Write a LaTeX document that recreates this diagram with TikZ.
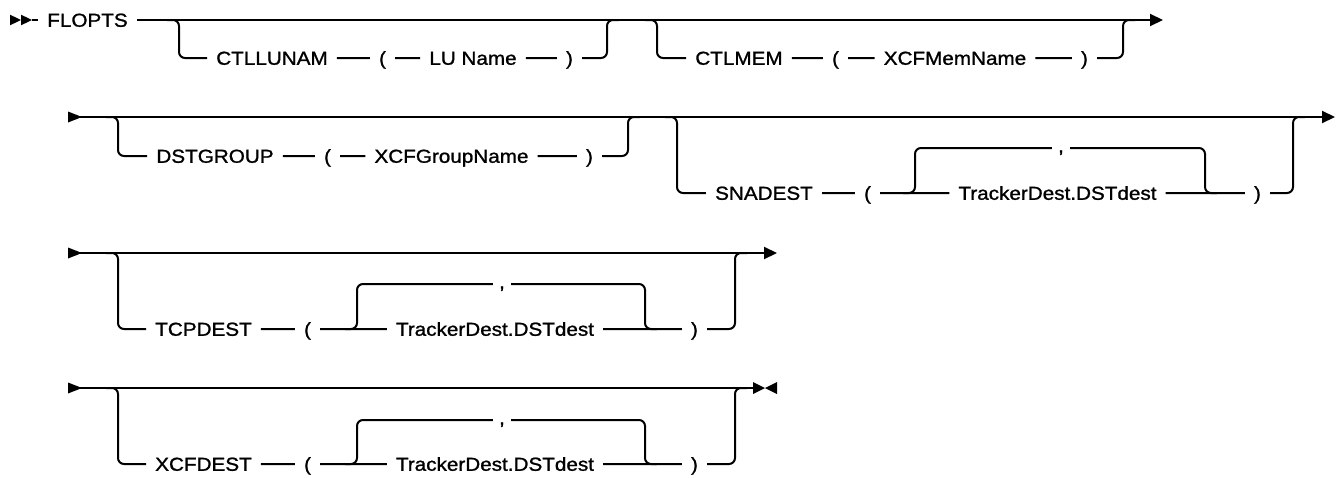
\documentclass[tikz,border=0pt]{standalone}
\usepackage{fontspec}
\setmainfont{Liberation Sans}[FakeStretch=1.1,FakeBold=1.2]
\usetikzlibrary{arrows.meta}
\tikzset{
  ln/.style={line width=2pt, line join=round},
  br/.style={ln, rounded corners=6pt},
  arr/.style={ln, -{Triangle[length=13pt,width=12pt]}},
  t/.style={inner xsep=9pt, inner ysep=0pt, text height=13.5pt, text depth=0pt, font=\fontsize{18.8}{22}\selectfont},
  commalbl/.style={t, inner xsep=6pt, text height=9pt}
}
\begin{document}
\begin{tikzpicture}[x=1pt,y=-1pt]
\useasboundingbox (0,0) rectangle (1340,477);
% ---------------- Row 1 ----------------
\fill (10,14.7) -- (21,20) -- (10,25.3) -- cycle;
\fill (21,14.7) -- (32,20) -- (21,25.3) -- cycle;
\coordinate (s1) at (32,20);
\node[t] (flopts) at (87.5,20) {FLOPTS};
\coordinate (e1) at (1163,20);
\draw[ln] (s1) -- (flopts);
\draw[arr] (flopts) -- (e1);
% CTLLUNAM
\coordinate (a1in) at (167,20); \coordinate (a1d) at (179,58);
\node[t] (ctllunam) at (272,58) {CTLLUNAM};
\node[t] (a1lp) at (382.5,58) {(};
\node[t] (luname) at (473,58) {LU Name};
\node[t] (a1rp) at (569.5,58) {)};
\coordinate (a1u) at (607,20); \coordinate (a1out) at (619,20);
\draw[br] (a1in) -| (a1d) -- (ctllunam) -- (a1lp) -- (luname) -- (a1rp) -| (a1u) -- (a1out);
% CTLMEM
\coordinate (b1in) at (645,20); \coordinate (b1d) at (657,58);
\node[t] (ctlmem) at (739,58) {CTLMEM};
\node[t] (b1lp) at (835.5,58) {(};
\node[t] (xcfmem) at (955,58) {XCFMemName};
\node[t] (b1rp) at (1084.5,58) {)};
\coordinate (b1u) at (1123,20); \coordinate (b1out) at (1135,20);
\draw[br] (b1in) -| (b1d) -- (ctlmem) -- (b1lp) -- (xcfmem) -- (b1rp) -| (b1u) -- (b1out);
% ---------------- Row 2 ----------------
\fill (68,111.5) -- (82,117) -- (68,122.5) -- cycle;
\coordinate (s2) at (68,117); \coordinate (e2) at (1335,117);
\draw[arr] (s2) -- (e2);
% DSTGROUP
\coordinate (a2in) at (106,117); \coordinate (a2d) at (118,156);
\node[t] (dstgroup) at (215,156) {DSTGROUP};
\node[t] (a2lp) at (327.5,156) {(};
\node[t] (xcfgroup) at (451.5,156) {XCFGroupName};
\node[t] (a2rp) at (589.5,156) {)};
\coordinate (a2u) at (628,117); \coordinate (a2out) at (640,117);
\draw[br] (a2in) -| (a2d) -- (dstgroup) -- (a2lp) -- (xcfgroup) -- (a2rp) -| (a2u) -- (a2out);
% SNADEST
\coordinate (b2in) at (665,117); \coordinate (b2d) at (677,193);
\node[t] (snadest) at (764,193) {SNADEST};
\node[t] (b2lp) at (867.5,193) {(};
\node[t] (b2tr) at (1057.5,193) {TrackerDest.DSTdest};
\node[t] (b2rp) at (1257.5,193) {)};
\coordinate (b2u) at (1293,117); \coordinate (b2out) at (1305,117);
\draw[br] (b2in) -| (b2d) -- (snadest) -- (b2lp) -- (b2tr) -- (b2rp) -| (b2u) -- (b2out);
\coordinate (b2lin) at (903,193); \coordinate (b2lu) at (915,148);
\node[commalbl] (b2cm) at (1061,148) {,};
\coordinate (b2ld) at (1205,193); \coordinate (b2lout) at (1217,193);
\draw[br] (b2lin) -| (b2lu) -- (b2cm);
\draw[br] (b2cm) -| (b2ld) -- (b2lout);
% ---------------- Row 3 ----------------
\fill (68,247.5) -- (82,253) -- (68,258.5) -- cycle;
\coordinate (s3) at (68,253); \coordinate (e3) at (777,253);
\draw[arr] (s3) -- (e3);
\coordinate (a3in) at (106,253); \coordinate (a3d) at (118,329);
\node[t] (tcpdest) at (203.5,329) {TCPDEST};
\node[t] (a3lp) at (307.5,329) {(};
\node[t] (a3tr) at (495,329) {TrackerDest.DSTdest};
\node[t] (a3rp) at (694.5,329) {)};
\coordinate (a3u) at (735,253); \coordinate (a3out) at (747,253);
\draw[br] (a3in) -| (a3d) -- (tcpdest) -- (a3lp) -- (a3tr) -- (a3rp) -| (a3u) -- (a3out);
\coordinate (a3lin) at (345,329); \coordinate (a3lu) at (357,284);
\node[commalbl] (a3cm) at (502,284) {,};
\coordinate (a3ld) at (645,329); \coordinate (a3lout) at (657,329);
\draw[br] (a3lin) -| (a3lu) -- (a3cm);
\draw[br] (a3cm) -| (a3ld) -- (a3lout);
% ---------------- Row 4 ----------------
\fill (68,382.5) -- (82,388) -- (68,393.5) -- cycle;
\coordinate (s4) at (68,388); \coordinate (e4) at (753,388);
\draw[ln] (s4) -- (e4);
\fill (753,382) -- (765,388) -- (753,394) -- cycle;
\fill (777,382) -- (765,388) -- (777,394) -- cycle;
\coordinate (a4in) at (106,388); \coordinate (a4d) at (118,464);
\node[t] (xcfdest) at (203.5,464) {XCFDEST};
\node[t] (a4lp) at (307.5,464) {(};
\node[t] (a4tr) at (495,464) {TrackerDest.DSTdest};
\node[t] (a4rp) at (694.5,464) {)};
\coordinate (a4u) at (735,388); \coordinate (a4out) at (747,388);
\draw[br] (a4in) -| (a4d) -- (xcfdest) -- (a4lp) -- (a4tr) -- (a4rp) -| (a4u) -- (a4out);
\coordinate (a4lin) at (345,464); \coordinate (a4lu) at (357,420);
\node[commalbl] (a4cm) at (502,420) {,};
\coordinate (a4ld) at (645,464); \coordinate (a4lout) at (657,464);
\draw[br] (a4lin) -| (a4lu) -- (a4cm);
\draw[br] (a4cm) -| (a4ld) -- (a4lout);
\end{tikzpicture}
\end{document}
